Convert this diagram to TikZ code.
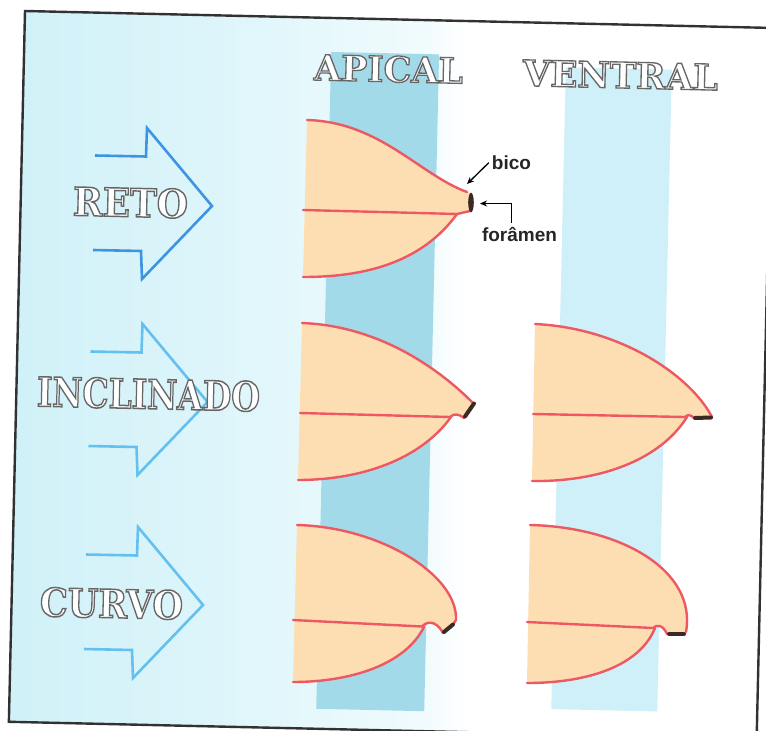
\documentclass[tikz,border=0pt]{standalone}
\usepackage{fontspec}
\usepackage{graphicx}
\usetikzlibrary{arrows.meta}

\newfontfamily\labelserif{DejaVu Serif}
\newfontfamily\notesans{Liberation Sans}

\definecolor{bgL}{RGB}{208,241,248}
\definecolor{bgM}{RGB}{220,245,250}
\definecolor{bgR}{RGB}{240,251,253}
\definecolor{apicalcol}{RGB}{163,218,234}
\definecolor{ventralcol}{RGB}{207,240,248}
\definecolor{peach}{RGB}{253,222,178}
\definecolor{rim}{RGB}{238,88,98}
\definecolor{tipc}{RGB}{60,42,34}
\definecolor{arrowdark}{RGB}{62,148,226}
\definecolor{arrowlight}{RGB}{100,192,240}
\definecolor{framec}{RGB}{50,50,50}

% background fades from cyan on the left to white on the right
\pgfdeclarehorizontalshading{bgfade}{100bp}{color(0bp)=(bgL); color(25bp)=(bgL);
  color(38bp)=(bgM); color(52bp)=(bgR); color(55bp)=(white); color(100bp)=(white)}

% outlined title lettering (white fill, grey stroke), stretched to a given width and cap height
\newcommand\fitlabel[3]{\resizebox{#1}{#2}{\color{white}%
  \special{pdf:literal direct 0.4 0.4 0.4 RG 0.75 w 2 Tr}%
  \labelserif\bfseries\fontsize{20}{24}\selectfont #3%
  \special{pdf:literal direct 0 Tr}}}

\begin{document}
\begin{tikzpicture}[x=1pt, y=-1pt,
  rimline/.style={draw=rim, line width=2.4pt, line cap=round, line join=round},
  tipbar/.style={draw=tipc, line width=4pt, line cap=round},
  flowarrow/.style={line width=2.6pt, line join=miter},
  tag/.style={font=\notesans\bfseries\fontsize{19}{19}\selectfont, text=black!85, inner sep=0pt},
  pointer/.style={draw=black, line width=1.3pt, -{Stealth[length=7pt,width=6pt]}},
  title/.style={inner sep=0pt, rotate=-1.3}]

\useasboundingbox (0,0) rectangle (766,731);
\fill[white] (0,0) rectangle (766,731);

% panel, background and the two view columns (slightly tilted)
\begin{scope}[shift={(25,11)}, rotate=-1.3]
  \shade[shading=bgfade] (0,0) rectangle (748,711);
  \fill[apicalcol] (307,34) rectangle (415,691);
  \fill[ventralcol] (542,44) rectangle (648,686);
  \draw[framec, line width=2.4pt] (0,0) rectangle (748,711);
\end{scope}

% direction arrows
\draw[flowarrow, arrowdark] (95,155.5) -- (146,156.5) -- (147,128) -- (212,206) -- (142,279) -- (141,251) -- (93,250);
\draw[flowarrow, arrowlight] (90.5,351.5) -- (141.5,352.5) -- (142.5,324) -- (207.5,402) -- (137.5,475) -- (136.5,447) -- (88.5,446);
\draw[flowarrow, arrowlight] (86,554.5) -- (137,555.5) -- (138,527) -- (203,605) -- (133,678) -- (132,650) -- (84,649);

% straight apex, apical view
\fill[peach] (307,120) .. controls (380,122) and (420,175) .. (467,192) -- (471,193) -- (471,212) -- (457,214) .. controls (420,265) and (360,277) .. (303,277) -- cycle;
\draw[rimline] (307,120) .. controls (380,122) and (420,175) .. (467,192);
\draw[rimline] (303,210) -- (457,214) -- (470,211);
\draw[rimline] (457,214) .. controls (420,265) and (360,277) .. (303,277);
\fill[tipc] (471,202.5) ellipse [x radius=2.8, y radius=9.8];

% inclined apex, apical view
\fill[peach] (302,323) .. controls (382,326) and (442,372) .. (472,402) -- (474,403) -- (464,418) .. controls (460,415) and (456,413) .. (451,417) .. controls (420,460) and (360,480) .. (298,480) -- cycle;
\draw[rimline] (302,323) .. controls (382,326) and (442,372) .. (472,402);
\draw[rimline] (300,413) -- (450,417) .. controls (454,413) and (459,414) .. (464,418);
\draw[rimline] (451,417) .. controls (420,460) and (360,480) .. (298,480);
\draw[tipbar] (474,403.5) -- (465,416.5);

% inclined apex, ventral view
\fill[peach] (535,324) .. controls (620,328) and (690,375) .. (712,417) -- (694,418) .. controls (691,415) and (689,414) .. (687,417) .. controls (660,460) and (600,482) .. (532,481) -- cycle;
\draw[rimline] (535,324) .. controls (620,328) and (690,375) .. (712,417);
\draw[rimline] (533,414) -- (685,417) .. controls (688,414) and (691,415) .. (694,418);
\draw[rimline] (687,417) .. controls (660,460) and (600,482) .. (532,481);
\draw[tipbar] (695,418) -- (711,417.5);

% curved apex, apical view
\fill[peach] (297,525) .. controls (380,527) and (458,575) .. (456,620) -- (453,624) -- (443,633) .. controls (436,620) and (427,621) .. (422,626.5) .. controls (405,665) and (350,682) .. (293,682) -- cycle;
\draw[rimline] (297,525) .. controls (380,527) and (458,575) .. (456,620) -- (454,623);
\draw[rimline] (293,620) -- (422,626.5) .. controls (427,621) and (436,620) .. (443,633);
\draw[rimline] (424,627) .. controls (405,665) and (350,682) .. (293,682);
\draw[tipbar] (453,624.5) -- (444,632);

% curved apex, ventral view
\fill[peach] (530,525) .. controls (620,527) and (697,570) .. (686,632) -- (685,634) -- (667,634) .. controls (663,625) and (657,624) .. (654,628) .. controls (640,665) and (590,683) .. (527,683) -- cycle;
\draw[rimline] (530,525) .. controls (620,527) and (697,570) .. (686,632);
\draw[rimline] (527,622) -- (653,628) .. controls (657,624) and (663,625) .. (667,634);
\draw[rimline] (655,628) .. controls (640,665) and (590,683) .. (527,683);
\draw[tipbar] (669,634) -- (684,634);

% titles
\node[title] (apical) at (388.5,69) {\fitlabel{149pt}{26pt}{APICAL}};
\node[title] (ventral) at (620.5,75) {\fitlabel{195pt}{26pt}{VENTRAL}};
\node[title] (reto) at (130.5,202.5) {\fitlabel{115pt}{29pt}{RETO}};
\node[title] (inclinado) at (148.5,394) {\fitlabel{223pt}{30pt}{INCLINADO}};
\node[title] (curvo) at (111.5,603.5) {\fitlabel{143pt}{29pt}{CURVO}};

% part names with pointers
\node[tag, anchor=base] (bico) at (511.5,169.5) {bico};
\node[tag, anchor=base] (foramen) at (519.5,241.5) {forâmen};
\coordinate (bicotip) at (467,184);
\coordinate (forptr) at (480,203.5);
\draw[pointer] ([xshift=-3pt]bico.west) -- (bicotip);
\draw[pointer] ([xshift=-8pt,yshift=4pt]foramen.north) |- (forptr);

\end{tikzpicture}
\end{document}
